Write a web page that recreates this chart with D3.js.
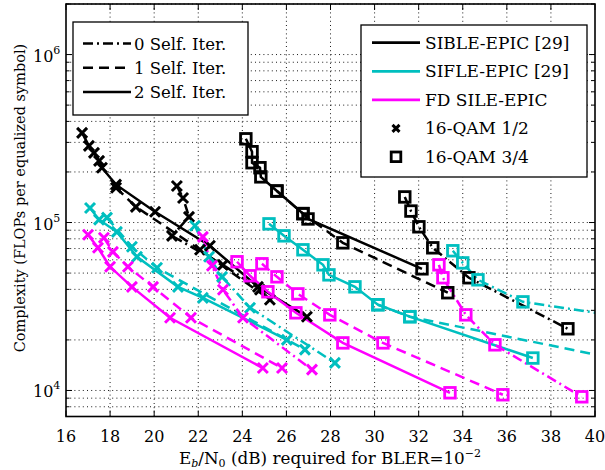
<!DOCTYPE html>
<html><head><meta charset="utf-8">
<script src="https://cdn.jsdelivr.net/npm/d3@7"></script>
<style>body{margin:0;background:#fff} svg{display:block} text{font-family:"DejaVu Serif",serif;fill:#000}</style>
</head><body><svg id="c" width="605" height="470"></svg>
<script>
// ---- data: [Eb/N0 (dB), complexity (FLOPs per equalized symbol)] ----
const xTicks = [16,18,20,22,24,26,28,30,32,34,36,38,40];
const yMajor = [1e4,1e5,1e6];
const yTickLabels = ["4","5","6"];

// SIBLE-EPIC [29], 16-QAM 1/2
const sible_q12_si2 = [[16.73,342e3],[17.04,286e3],[17.27,260e3],[17.50,233e3],[17.63,212e3],[18.27,168e3],[20.04,116e3],[22.53,72.7e3],[24.71,41.4e3],[26.93,27.5e3]];
const sible_q12_si1 = [[18.27,161e3],[19.17,124e3],[22.08,68.8e3],[25.25,34.7e3]];
const sible_q12_si0 = [[21.03,165e3],[21.31,140e3],[21.58,108e3],[20.81,83.3e3],[23.12,56.0e3],[24.80,39.8e3]];
// SIBLE-EPIC [29], 16-QAM 3/4
const sible_q34_si2 = [[24.16,315e3],[24.44,264e3],[24.44,227e3],[24.80,212e3],[24.84,187e3],[25.57,154e3],[26.75,113e3],[26.98,105e3],[32.15,53.0e3]];
const sible_q34_si1 = [[25.57,154e3],[26.75,113e3],[28.56,75.7e3],[33.32,38.2e3]];
const sible_q34_si0 = [[31.37,142e3],[31.65,117e3],[32.01,94.3e3],[32.64,70.7e3],[34.28,46.9e3],[38.77,23.3e3]];
// SIFLE-EPIC [29], 16-QAM 1/2
const sifle_q12_si2 = [[17.09,122e3],[17.50,104e3],[18.31,88.0e3],[19.22,62.5e3],[21.08,41.4e3],[22.21,35.6e3],[26.02,20.0e3]];
const sifle_q12_si1 = [[17.86,107e3],[18.99,71.7e3],[20.13,53.8e3],[26.84,17.5e3]];
const sifle_q12_si0 = [[21.85,95.6e3],[22.49,62.5e3],[23.08,47.5e3],[24.35,31.1e3],[28.20,14.6e3]];
// SIFLE-EPIC [29], 16-QAM 3/4
const sifle_q34_si2 = [[25.21,98.2e3],[25.89,83.3e3],[26.75,68.8e3],[27.66,56.0e3],[27.93,48.8e3],[29.11,41.4e3],[30.15,32.4e3],[31.60,27.5e3],[37.18,15.6e3]];
const sifle_q34_si1 = [[30.15,32.4e3],[31.60,27.5e3],[41.0,15.4e3]];
const sifle_q34_si0 = [[33.55,67.9e3],[34.00,57.5e3],[34.69,45.6e3],[36.73,33.7e3],[41.0,27.8e3]];
// FD SILE-EPIC, 16-QAM 1/2
const fdsile_q12_si2 = [[17.00,84.5e3],[17.45,70.7e3],[18.00,54.5e3],[18.99,41.4e3],[20.72,27.1e3],[24.93,13.6e3]];
const fdsile_q12_si1 = [[17.72,81.1e3],[18.13,66.9e3],[18.81,54.5e3],[19.95,41.4e3],[21.67,27.1e3],[25.80,13.6e3]];
const fdsile_q12_si0 = [[22.21,82.2e3],[22.62,55.3e3],[23.12,39.8e3],[24.03,27.1e3],[27.16,13.3e3]];
// FD SILE-EPIC, 16-QAM 3/4
const fdsile_q34_si2 = [[23.76,58.4e3],[24.35,48.2e3],[25.16,38.7e3],[26.43,29.0e3],[28.56,19.2e3],[33.42,9.69e3]];
const fdsile_q34_si1 = [[24.89,56.8e3],[25.57,47.5e3],[26.52,37.6e3],[27.97,28.2e3],[30.38,19.2e3],[35.82,9.43e3]];
const fdsile_q34_si0 = [[32.92,56.0e3],[33.10,46.9e3],[34.14,28.2e3],[35.46,18.7e3],[39.40,9.17e3]];

const algoNames = ["SIBLE-EPIC [29]","SIFLE-EPIC [29]","FD SILE-EPIC"];
const algoColors = ["#000000","#00bfbf","#ff00ff"];
const iterNames = ["0 Self. Iter.","1 Self. Iter.","2 Self. Iter."];
const modNames = ["16-QAM 1/2","16-QAM 3/4"];

// ---- build ----
const dashes = ["10,4,2,4","10,6",null];
const series = [
  [sible_q12_si0,0,0,0],[sible_q12_si1,0,1,0],[sible_q12_si2,0,2,0],
  [sible_q34_si0,0,0,1],[sible_q34_si1,0,1,1],[sible_q34_si2,0,2,1],
  [sifle_q12_si0,1,0,0],[sifle_q12_si1,1,1,0],[sifle_q12_si2,1,2,0],
  [sifle_q34_si0,1,0,1],[sifle_q34_si1,1,1,1],[sifle_q34_si2,1,2,1],
  [fdsile_q12_si0,2,0,0],[fdsile_q12_si1,2,1,0],[fdsile_q12_si2,2,2,0],
  [fdsile_q34_si0,2,0,1],[fdsile_q34_si1,2,1,1],[fdsile_q34_si2,2,2,1]
].map(([data,a,i,m])=>({data,color:algoColors[a],dash:dashes[i],marker:m}));

const L=66,R=595,T=4,B=416.5;
const svg = d3.select("#c");
const x = d3.scaleLinear().domain([16,40]).range([L,R]);
const y = d3.scaleLog().domain([7000,2e6]).range([B,T]);

svg.append("rect").attr("width",605).attr("height",470).attr("fill","#fff");

// grid
const yMinor = [];
for (let e=3;e<=6;e++) for (let k=1;k<=9;k++){const v=k*Math.pow(10,e); if(v>=7000&&v<=2e6) yMinor.push(v);}
const grid = svg.append("g").attr("stroke","#000").attr("stroke-width",0.9).attr("stroke-dasharray","1,3.2");
grid.selectAll("line.h").data(yMinor).join("line").attr("class","h")
  .attr("x1",L).attr("x2",R).attr("y1",d=>y(d)).attr("y2",d=>y(d));
grid.selectAll("line.v").data(xTicks.slice(1,-1)).join("line").attr("class","v")
  .attr("y1",T).attr("y2",B).attr("x1",d=>x(d)).attr("x2",d=>x(d));

// axes with inward ticks
const ax = svg.append("g").attr("stroke","#000").attr("stroke-width",1);
yMinor.forEach(v=>{
  const len = yMajor.includes(v)?6:3.5;
  ax.append("line").attr("x1",L).attr("x2",L+len).attr("y1",y(v)).attr("y2",y(v));
  ax.append("line").attr("x1",R).attr("x2",R-len).attr("y1",y(v)).attr("y2",y(v));
});
xTicks.forEach(v=>{
  ax.append("line").attr("x1",x(v)).attr("x2",x(v)).attr("y1",B).attr("y2",B-6);
  ax.append("line").attr("x1",x(v)).attr("x2",x(v)).attr("y1",T).attr("y2",T+6);
});

// data
svg.append("clipPath").attr("id","pc").append("rect").attr("x",L).attr("y",T).attr("width",R-L).attr("height",B-T);
const plot = svg.append("g").attr("clip-path","url(#pc)");
const line = d3.line().x(d=>x(d[0])).y(d=>y(d[1]));
function drawMarker(g,m,cx,cy,color,s,w){
  if(m===0){
    g.append("path").attr("d",`M${cx-s},${cy-s}L${cx+s},${cy+s}M${cx-s},${cy+s}L${cx+s},${cy-s}`)
      .attr("stroke",color).attr("stroke-width",w).attr("fill","none");
  } else {
    g.append("rect").attr("x",cx-s).attr("y",cy-s).attr("width",2*s).attr("height",2*s)
      .attr("stroke",color).attr("stroke-width",w).attr("fill","none");
  }
}
series.forEach(s=>{
  plot.append("path").datum(s.data).attr("d",line).attr("fill","none")
    .attr("stroke",s.color).attr("stroke-width",2.5).attr("stroke-dasharray",s.dash);
});
series.forEach(s=>{
  s.data.forEach(d=>drawMarker(plot,s.marker,x(d[0]),y(d[1]),s.color,s.marker===0?5:5.3,s.marker===0?3:2.8));
});

// frame
svg.append("rect").attr("x",L).attr("y",T).attr("width",R-L).attr("height",B-T)
  .attr("fill","none").attr("stroke","#000").attr("stroke-width",1.6);

// tick labels
svg.append("g").selectAll("text").data(xTicks).join("text")
  .attr("x",d=>x(d)).attr("y",442).attr("text-anchor","middle").attr("font-size",16).text(d=>d);
yMajor.forEach((v,i)=>{
  const t = svg.append("text").attr("x",33).attr("y",y(v)+7).attr("font-size",16);
  t.append("tspan").text("10");
  t.append("tspan").attr("dy",-8).attr("font-size",11).text(yTickLabels[i]);
});

// axis titles
const xl = svg.append("text").attr("x",330).attr("y",464).attr("text-anchor","middle").attr("font-size",16.8);
xl.append("tspan").text("E");
xl.append("tspan").attr("dy",3).attr("font-size",11).attr("font-style","italic").text("b");
xl.append("tspan").attr("dy",-3).text("/N");
xl.append("tspan").attr("dy",3).attr("font-size",11).text("0");
xl.append("tspan").attr("dy",-3).text(" (dB) required for BLER=10");
xl.append("tspan").attr("dy",-7).attr("font-size",11).text("−2");
svg.append("text").attr("transform","translate(25,198) rotate(-90)").attr("text-anchor","middle")
  .attr("font-size",14.5).text("Complexity (FLOPs per equalized symbol)");

// legend 1 (self iterations)
const lg1 = svg.append("g");
lg1.append("rect").attr("x",73).attr("y",22).attr("width",175).attr("height",93)
  .attr("fill","#fff").attr("stroke","#000").attr("stroke-width",1.3);
iterNames.forEach((n,i)=>{
  const yy = 43.5+i*24.2;
  lg1.append("line").attr("x1",83).attr("x2",131).attr("y1",yy).attr("y2",yy)
    .attr("stroke","#000").attr("stroke-width",2.5).attr("stroke-dasharray",dashes[i]);
  lg1.append("text").attr("x",134).attr("y",yy+6).attr("font-size",16.5).text(n);
});

// legend 2 (algorithms, modulations)
const lg2 = svg.append("g");
lg2.append("rect").attr("x",361).attr("y",25).attr("width",226).attr("height",152)
  .attr("fill","#fff").attr("stroke","#000").attr("stroke-width",1.3);
algoNames.forEach((n,i)=>{
  const yy = 42.7+i*28.6;
  lg2.append("line").attr("x1",372).attr("x2",420).attr("y1",yy).attr("y2",yy)
    .attr("stroke",algoColors[i]).attr("stroke-width",2.7);
  lg2.append("text").attr("x",425).attr("y",yy+6).attr("font-size",17).text(n);
});
modNames.forEach((n,i)=>{
  const yy = 128.4+i*28.4;
  drawMarker(lg2,i,396,yy,"#000",i===0?3.5:4.8,i===0?3:2.8);
  lg2.append("text").attr("x",425).attr("y",yy+6).attr("font-size",17).text(n);
});
</script></body></html>
